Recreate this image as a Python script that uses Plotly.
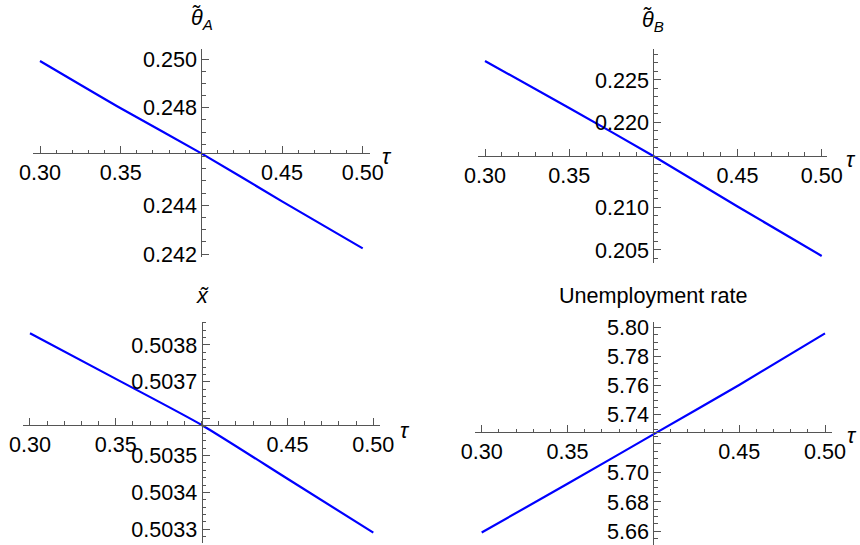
import plotly.graph_objects as go

# ---------------- data ----------------
tau = [0.30, 0.35, 0.40, 0.45, 0.50]

theta_A = [0.24992, 0.24798, 0.24613, 0.24416, 0.24223]
theta_B = [0.22724, 0.22171, 0.21606, 0.21012, 0.20430]
x_tilde = [0.503832, 0.503708, 0.503583, 0.503437, 0.503291]
unemployment = [5.6590, 5.6925, 5.7265, 5.7605, 5.7960]

titles = ["<i>θ̃</i><sub><i>A</i></sub>", "<i>θ̃</i><sub><i>B</i></sub>",
          "<i>x̃</i>", "Unemployment rate"]

# the tick at the axes origin carries no label, as in the reference
x_tickvals = [0.30, 0.35, 0.45, 0.50]
x_ticktext = ["0.30", "0.35", "0.45", "0.50"]

yA_tickvals = [0.242, 0.244, 0.248, 0.250]
yA_ticktext = ["0.242", "0.244", "0.248", "0.250"]
yB_tickvals = [0.205, 0.210, 0.215, 0.220, 0.225]
yB_ticktext = ["0.205", "0.210", "", "0.220", "0.225"]
yX_tickvals = [0.5033, 0.5034, 0.5035, 0.5036, 0.5037, 0.5038]
yX_ticktext = ["0.5033", "0.5034", "0.5035", "", "0.5037", "0.5038"]
yU_tickvals = [5.66, 5.68, 5.70, 5.72, 5.74, 5.76, 5.78, 5.80]
yU_ticktext = ["5.66", "5.68", "5.70", "", "5.74", "5.76", "5.78", "5.80"]

# ---------------- layout ----------------
W, H = 860, 545
FONT = "Liberation Sans, Arial, sans-serif"
FS = 21.6
AXC = "#555555"
LINEC = "#0000ff"

panels = [
    dict(y=theta_A, yt=(yA_tickvals, yA_ticktext), ydt=0.0005,
         xdom=(33, 370), xr=(0.29566, 0.50452),
         ydom=(49.3, 257), yr=(0.241877, 0.250398), oy=0.246131,
         tpos=(201.5, 19), taupos=(387, 157)),
    dict(y=theta_B, yt=(yB_tickvals, yB_ticktext), ydt=0.001,
         xdom=(478.3, 826.7), xr=(0.29602, 0.50297),
         ydom=(49.3, 263), yr=(0.20347, 0.22861), oy=0.216059,
         tpos=(652.5, 21), taupos=(851, 159)),
    dict(y=x_tilde, yt=(yX_tickvals, yX_ticktext), ydt=0.00002,
         xdom=(23.3, 380), xr=(0.29610, 0.50390),
         ydom=(321.7, 543), yr=(0.5032628, 0.5038632), oy=0.503583,
         tpos=(202.5, 295), taupos=(405, 430)),
    dict(y=unemployment, yt=(yU_tickvals, yU_ticktext), ydt=0.005,
         xdom=(475, 831.7), xr=(0.29610, 0.50390),
         ydom=(321.7, 545), yr=(5.6504, 5.8040), oy=5.7281,
         tpos=(653, 295), taupos=(852, 435)),
]
OX = 0.40

fig = go.Figure()
layout = dict(width=W, height=H,
              margin=dict(l=0, r=0, t=0, b=0, pad=0, autoexpand=False),
              paper_bgcolor="white", plot_bgcolor="white",
              showlegend=False, font=dict(family=FONT, size=FS, color="#000"))
annotations = []

for i, p in enumerate(panels, start=1):
    xn = "x" if i == 1 else f"x{i}"
    yn = "y" if i == 1 else f"y{i}"
    fig.add_trace(go.Scatter(x=tau, y=p["y"], mode="lines", xaxis=xn, yaxis=yn,
                             line=dict(color=LINEC, width=2.2, shape="spline", smoothing=0.6),
                             hoverinfo="skip", cliponaxis=False))
    xd = (p["xdom"][0] / W, p["xdom"][1] / W)
    yd = (1 - p["ydom"][1] / H, 1 - p["ydom"][0] / H)
    # paper positions of the axes origin
    ypos = yd[0] + (p["oy"] - p["yr"][0]) / (p["yr"][1] - p["yr"][0]) * (yd[1] - yd[0])
    xpos = xd[0] + (OX - p["xr"][0]) / (p["xr"][1] - p["xr"][0]) * (xd[1] - xd[0])
    layout[f"xaxis{'' if i == 1 else i}"] = dict(
        domain=xd, range=p["xr"], anchor="free", position=ypos, automargin=False,
        showline=True, linecolor=AXC, linewidth=1, showgrid=False, zeroline=False,
        ticks="inside", ticklen=7, tickcolor=AXC, tickwidth=1,
        tickmode="array", tickvals=x_tickvals, ticktext=x_ticktext,
        tickfont=dict(family=FONT, size=FS, color="#000"),
        minor=dict(ticks="inside", dtick=0.01, tick0=0, ticklen=3.5,
                   tickcolor=AXC, tickwidth=1, showgrid=False),
        fixedrange=True)
    layout[f"yaxis{'' if i == 1 else i}"] = dict(
        domain=yd, range=p["yr"], anchor="free", position=xpos, automargin=False,
        showline=True, linecolor=AXC, linewidth=1, showgrid=False, zeroline=False,
        ticks="inside", ticklen=7, tickcolor=AXC, tickwidth=1,
        tickmode="array", tickvals=p["yt"][0], ticktext=p["yt"][1],
        tickfont=dict(family=FONT, size=FS, color="#000"),
        minor=dict(ticks="inside", dtick=p["ydt"], tick0=0, ticklen=3.5,
                   tickcolor=AXC, tickwidth=1, showgrid=False),
        fixedrange=True)
    # plot title
    annotations.append(dict(text=titles[i - 1], x=p["tpos"][0] / W, y=1 - p["tpos"][1] / H,
                            xref="paper", yref="paper", xanchor="center", yanchor="middle",
                            showarrow=False, font=dict(family=FONT, size=FS, color="#000")))
    # axis label tau
    annotations.append(dict(text="<i>τ</i>", x=p["taupos"][0] / W, y=1 - p["taupos"][1] / H,
                            xref="paper", yref="paper", xanchor="center", yanchor="middle",
                            showarrow=False,
                            font=dict(family=FONT, size=FS, color="#000")))

layout["annotations"] = annotations
fig.update_layout(**layout)
fig.write_html("out.html", config={"displayModeBar": False, "staticPlot": True},
               post_script="document.body.style.margin='0';document.body.style.padding='0';"
                           "document.body.style.overflow='hidden';")
